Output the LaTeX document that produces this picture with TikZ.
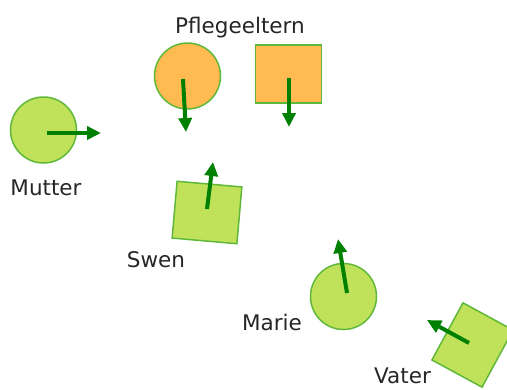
\documentclass[tikz,border=0pt]{standalone}
\usepackage{fontspec}
\setmainfont{DejaVu Sans}
\usetikzlibrary{arrows.meta}
\definecolor{lgreen}{RGB}{192,226,90}
\definecolor{lorange}{RGB}{255,186,82}
\definecolor{edgegreen}{RGB}{96,184,58}
\definecolor{arrowgreen}{RGB}{0,128,0}
\tikzset{
  person/.style={draw=edgegreen, line width=1.5pt, inner sep=0pt},
  female/.style={person, circle, minimum size=66pt},
  male/.style={person, rectangle, minimum width=66pt, minimum height=58pt},
  green/.style={fill=lgreen},
  orange/.style={fill=lorange},
  dir/.style={draw=arrowgreen, line width=4pt, -{Triangle[length=14pt,width=13pt]}},
  lbl/.style={font=\fontsize{21.5pt}{24pt}\selectfont, anchor=base, inner sep=0pt, text=black!85}
}
\begin{document}
\begin{tikzpicture}[x=1pt,y=-1pt]
\useasboundingbox (0,0) rectangle (507,389);
% shapes
\node[female, green] (mutter) at (43.5,130) {};
\node[female, orange] (pflmutter) at (187.5,76) {};
\node[male, orange] (pflvater) at (288.5,74) {};
\node[male, green, rotate=-5, minimum width=65pt, minimum height=57pt] (swen) at (207,212.5) {};
\node[female, green] (marie) at (343.5,296.5) {};
\node[male, green, rotate=-28.5, minimum width=57pt, minimum height=65pt] (vater) at (472.5,345) {};
% labels
\node[lbl] (lpfl) at (240,33.3) {Pflegeeltern};
\node[lbl] (lmutter) at (46,195) {Mutter};
\node[lbl] (lswen) at (156,267) {Swen};
\node[lbl] (lmarie) at (272,330) {Marie};
\node[lbl] (lvater) at (402.5,383) {Vater};
% arrow ends
\coordinate (mutter-s) at (47,133);   \coordinate (mutter-t) at (101,133);
\coordinate (pflm-s) at (183,79);     \coordinate (pflm-t) at (186,132);
\coordinate (pflv-s) at (289,78);     \coordinate (pflv-t) at (289,127);
\coordinate (swen-s) at (207,209);    \coordinate (swen-t) at (213,162);
\coordinate (marie-s) at (347,293);   \coordinate (marie-t) at (338,239);
\coordinate (vater-s) at (469,343);   \coordinate (vater-t) at (427,320);
% arrows
\draw[dir] (mutter-s) -- (mutter-t);
\draw[dir] (pflm-s) -- (pflm-t);
\draw[dir] (pflv-s) -- (pflv-t);
\draw[dir] (swen-s) -- (swen-t);
\draw[dir] (marie-s) -- (marie-t);
\draw[dir] (vater-s) -- (vater-t);
\end{tikzpicture}
\end{document}
